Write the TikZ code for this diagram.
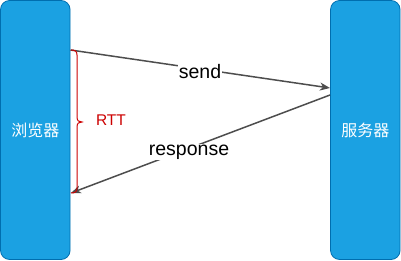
\documentclass[tikz,border=0pt]{standalone}
\usepackage{fontspec}
\setmainfont{Liberation Sans}
\newfontfamily\cjk{Noto Sans CJK SC}
\usetikzlibrary{arrows.meta}
\definecolor{boxfill}{HTML}{1BA1E2}
\definecolor{boxline}{HTML}{006EAF}
\definecolor{msgline}{HTML}{4D4D4D}
\definecolor{rttred}{HTML}{CC0000}
\begin{document}
\begin{tikzpicture}[x=1pt,y=-1pt,
  actor/.style={draw=boxline,fill=boxfill,line width=0.8pt,rounded corners=9pt,
    minimum width=69.5pt,minimum height=259pt,inner sep=0pt,
    text=white,font=\cjk\fontsize{16}{18}\selectfont},
  msg/.style={draw=msgline,line width=1.5pt,
    -{Stealth[length=10pt,width=8pt,inset=3pt]}},
  msglabel/.style={fill=white,inner sep=1pt,font=\fontsize{19.5}{22}\selectfont,text=black},
  brace/.style={draw=rttred,line width=1pt},
]
\useasboundingbox (0,0) rectangle (401,261);
\node[actor] (browser) at (35.3,130) {浏览器};
\node[actor] (server) at (365.3,130) {服务器};

% message endpoints on the lifelines
\coordinate (sendA) at (70.5,50);
\coordinate (sendB) at (330,88);
\coordinate (respA) at (330,95);
\coordinate (respB) at (71,193);

\draw[msg] (sendA) -- (sendB);
\draw[msg] (respA) -- (respB);
\node[msglabel] (sendlbl) at (200,71.5) {send};
\node[msglabel] (resplbl) at (189,152) {response};

% round-trip brace
\draw[brace] (71,50) .. controls (75,50) and (77,51) .. (77,55)
  -- (77,117) .. controls (77,121) and (79,122) .. (82,122)
  .. controls (79,122) and (77,123) .. (77,127)
  -- (77,188) .. controls (77,192) and (75,193) .. (71,193);
\node[text=rttred,font=\fontsize{15.5}{18}\selectfont,anchor=west] (rtt) at (92.5,120.5) {RTT};
\end{tikzpicture}
\end{document}
